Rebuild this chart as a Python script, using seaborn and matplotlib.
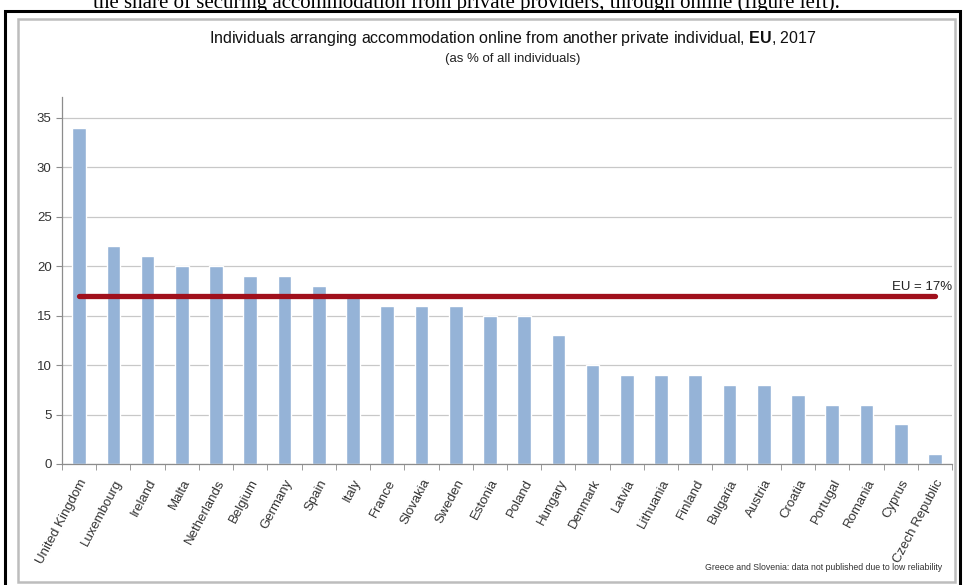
import matplotlib
matplotlib.use("Agg")
import matplotlib.pyplot as plt
from matplotlib.patches import Rectangle
import seaborn as sns

# Chart data
countries = ["United Kingdom", "Luxembourg", "Ireland", "Malta", "Netherlands", "Belgium",
             "Germany", "Spain", "Italy", "France", "Slovakia", "Sweden", "Estonia", "Poland",
             "Hungary", "Denmark", "Latvia", "Lithuania", "Finland", "Bulgaria", "Austria",
             "Croatia", "Portugal", "Romania", "Cyprus", "Czech Republic"]
shares = [34, 22, 21, 20, 20, 19, 19, 18, 17, 16, 16, 16, 15, 15,
          13, 10, 9, 9, 9, 8, 8, 7, 6, 6, 4, 1]
eu_average = 17
y_ticks = [0, 5, 10, 15, 20, 25, 30, 35]

sns.set_style("white")
plt.rcParams['font.family'] = ['Liberation Sans', 'DejaVu Sans']
plt.rcParams['mathtext.fontset'] = 'custom'
plt.rcParams['mathtext.bf'] = 'Liberation Sans:bold'
plt.rcParams['mathtext.rm'] = 'Liberation Sans'

fig = plt.figure(figsize=(9.64, 5.85), dpi=100)
ax = fig.add_axes([62 / 964, 1 - 464 / 585, 890 / 964, 367 / 585])

sns.barplot(x=countries, y=shares, color="#95B3D7", width=0.4, saturation=1, ax=ax)

# EU average line
ax.hlines(eu_average, 0, len(countries) - 1, color="#A0101C", lw=3.8, zorder=3,
          capstyle="round")
ax.text(len(countries) - 0.5, eu_average + 0.25, f"EU = {eu_average}%", ha="right",
        va="bottom", fontsize=9.5, color="#222222")

ax.set_xlim(-0.5, len(countries) - 0.5)
ax.set_ylim(0, 37.1)
ax.set_yticks(y_ticks)
ax.yaxis.grid(True, color="#C8C8C8", lw=0.9)
ax.set_axisbelow(True)
for s in ["top", "right"]:
    ax.spines[s].set_visible(False)
for s in ["left", "bottom"]:
    ax.spines[s].set_color("#8C8C8C")
    ax.spines[s].set_linewidth(0.9)

ax.tick_params(axis="y", left=True, length=4, color="#8C8C8C", labelsize=9.5,
               labelcolor="#333333")
ax.tick_params(axis="x", bottom=False, labelsize=9.5, labelcolor="#333333", pad=6)
# separator ticks between categories
ax.set_xticks([i + 0.5 for i in range(-1, len(countries))], minor=True)
ax.tick_params(axis="x", which="minor", bottom=True, length=4, color="#8C8C8C")
ax.set_xticklabels(countries, rotation=62, ha="right", rotation_mode="anchor")
ax.set_xlabel("")
ax.set_ylabel("")

# Titles
fig.text(0.532, 1 - 38 / 585, r"Individuals arranging accommodation online from another private individual, $\mathbf{EU}$, 2017",
         ha="center", va="center", fontsize=11.5, color="#111111")
fig.text(0.532, 1 - 59 / 585, "(as % of all individuals)", ha="center", va="center",
         fontsize=9.5, color="#222222")
fig.text(942 / 964, 1 - 568 / 585, "Greece and Slovenia: data not published due to low reliability",
         ha="right", va="center", fontsize=6.3, color="#333333")

# Cut-off text line from the page above the chart
fig.text(840 / 964, 1 - 8 / 585, "the share of securing accommodation from private providers, through online (figure left).",
         ha="right", va="baseline", fontsize=15, color="black", family="Liberation Serif")

# Frames
fig.patches.append(Rectangle((18 / 964, 1 - 582 / 585), 937 / 964, 563 / 585, transform=fig.transFigure,
                             fill=False, edgecolor="#BDBDBD", lw=1.8))
fig.patches.append(Rectangle((5 / 964, -0.05), 955 / 964, 1.05 - 11 / 585, transform=fig.transFigure,
                             fill=False, edgecolor="black", lw=2.2))

fig.savefig("out.png", dpi=100)
